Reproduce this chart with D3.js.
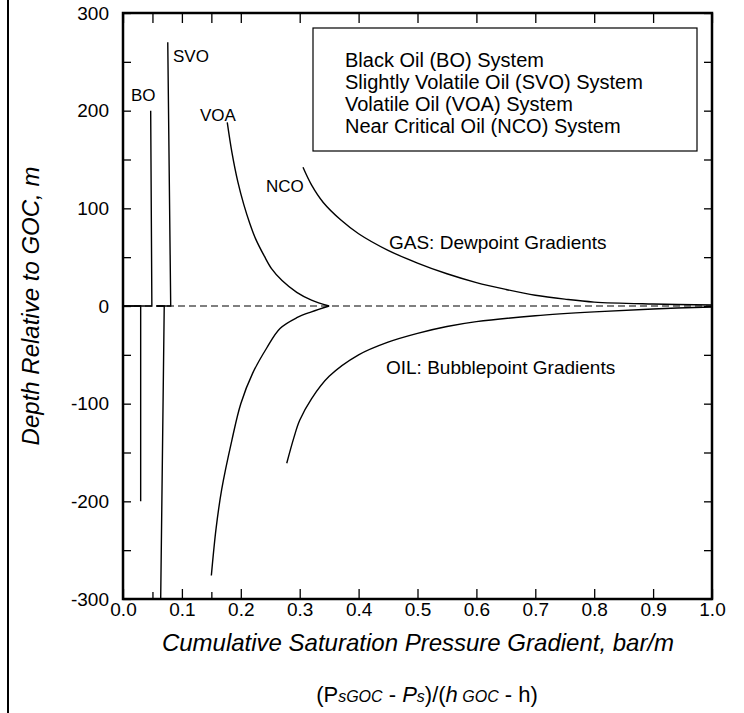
<!DOCTYPE html>
<html>
<head>
<meta charset="utf-8">
<script src="https://cdn.jsdelivr.net/npm/d3@7"></script>
<style>
  body { margin: 0; background: #fff; }
  svg text { font-family: "Liberation Sans", Arial, sans-serif; fill: #000; }
</style>
</head>
<body>
<svg id="chart" width="744" height="713"></svg>
<script>
// axis ticks
var xMajor = [0, 0.1, 0.2, 0.3, 0.4, 0.5, 0.6, 0.7, 0.8, 0.9, 1.0];
var xMinor = [0.05, 0.15];
var yTicks = [-300, -250, -200, -150, -100, -50, 0, 50, 100, 150, 200, 250, 300];
var yLabels = [-300, -200, -100, 0, 100, 200, 300];

// [gradient, depth] per system
var boGas = [[0.0, 0], [0.049, 0], [0.047, 200]];
var boOil = [[0.0, 0], [0.030, 0], [0.030, -200]];
var svoGas = [[0.057, 0], [0.081, 0], [0.076, 270]];
var svoOil = [[0.057, 0], [0.070, 0], [0.064, -300]];
var voaGas = [[0.177, 188], [0.185, 157], [0.195, 127], [0.205, 104], [0.215, 85], [0.225, 69],
  [0.24, 51], [0.2525, 38], [0.27, 26], [0.295, 14], [0.32, 6], [0.35, 0]];
var voaOil = [[0.35, 0], [0.32, -6], [0.295, -12], [0.2666, -23], [0.244, -43], [0.22, -69],
  [0.20, -100], [0.185, -137], [0.1675, -188], [0.158, -228], [0.15, -276]];
var ncoGas = [[0.3056, 142], [0.32, 124], [0.34, 106], [0.37, 88], [0.40, 74], [0.45, 57],
  [0.50, 44], [0.55, 33], [0.60, 24], [0.65, 17], [0.70, 11], [0.75, 7], [0.80, 4], [0.90, 2], [1.0, 1]];
var ncoOil = [[0.278, -161], [0.29, -135], [0.30, -117], [0.32, -95], [0.35, -72], [0.40, -50],
  [0.45, -37], [0.50, -28], [0.55, -21], [0.60, -16], [0.70, -10], [0.80, -6], [0.90, -3], [1.0, -1]];

var legendLines = [
  "Black Oil (BO) System",
  "Slightly Volatile Oil (SVO) System",
  "Volatile Oil (VOA) System",
  "Near Critical Oil (NCO) System"
];

var svg = d3.select("#chart");
var plotL = 123, plotR = 712, plotT = 13, plotB = 599;

var x = d3.scaleLinear().domain([0, 1]).range([plotL, plotR]);
var y = d3.scaleLinear().domain([-300, 300]).range([plotB, plotT]);

// page rule on the left
svg.append("line")
  .attr("x1", 8).attr("x2", 8).attr("y1", 0).attr("y2", 713)
  .attr("stroke", "#000").attr("stroke-width", 2);

// zero depth (GOC)
svg.append("line")
  .attr("x1", x(0)).attr("x2", x(1)).attr("y1", y(0)).attr("y2", y(0))
  .attr("stroke", "#555").attr("stroke-width", 1.5)
  .attr("stroke-dasharray", "7,4");

var line = d3.line().x(d => x(d[0])).y(d => y(d[1]));
var smooth = d3.line().x(d => x(d[0])).y(d => y(d[1])).curve(d3.curveCatmullRom.alpha(0.5));

[boGas, boOil, svoGas, svoOil].forEach(function(s) {
  svg.append("path").datum(s).attr("d", line)
    .attr("fill", "none").attr("stroke", "#000").attr("stroke-width", 1.4);
});
[voaGas, voaOil, ncoGas, ncoOil].forEach(function(s) {
  svg.append("path").datum(s).attr("d", smooth)
    .attr("fill", "none").attr("stroke", "#000").attr("stroke-width", 1.4);
});

// axes, ticks pointing inward
function styleAxis(g) {
  g.select(".domain").remove();
  g.selectAll(".tick line").attr("stroke", "#000").attr("stroke-width", 1.3);
  g.selectAll(".tick text").style("font-size", "19px").attr("fill", "#000");
}
svg.append("g").attr("transform", "translate(0," + plotB + ")")
  .call(d3.axisBottom(x).tickValues(xMajor).tickSizeInner(-10).tickSizeOuter(0)
    .tickPadding(4).tickFormat(d3.format(".1f")))
  .call(styleAxis);
svg.append("g").attr("transform", "translate(0," + plotB + ")")
  .call(d3.axisBottom(x).tickValues(xMinor).tickSizeInner(-7).tickSizeOuter(0).tickFormat(""))
  .call(styleAxis);
svg.append("g").attr("transform", "translate(0," + plotT + ")")
  .call(d3.axisTop(x).tickValues(xMajor.concat(xMinor)).tickSizeInner(-10).tickSizeOuter(0).tickFormat(""))
  .call(styleAxis);
svg.append("g").attr("transform", "translate(" + plotL + ",0)")
  .call(d3.axisLeft(y).tickValues(yTicks).tickSizeInner(-8).tickSizeOuter(0)
    .tickPadding(14).tickFormat(d => yLabels.indexOf(d) >= 0 ? d : ""))
  .call(styleAxis);
svg.append("g").attr("transform", "translate(" + plotR + ",0)")
  .call(d3.axisRight(y).tickValues(yTicks).tickSizeInner(-8).tickSizeOuter(0).tickFormat(""))
  .call(styleAxis);

// frame
svg.append("rect")
  .attr("x", plotL).attr("y", plotT).attr("width", plotR - plotL).attr("height", plotB - plotT)
  .attr("fill", "none").attr("stroke", "#000").attr("stroke-width", 2.5);

// curve labels
var curveLabels = [
  { text: "BO", x: 131, y: 101 },
  { text: "SVO", x: 173, y: 62 },
  { text: "VOA", x: 200, y: 121 },
  { text: "NCO", x: 266, y: 192 }
];
svg.selectAll(".clabel").data(curveLabels).enter().append("text")
  .attr("x", d => d.x).attr("y", d => d.y)
  .style("font-size", "17px").text(d => d.text);

svg.append("text").attr("x", 389).attr("y", 249).style("font-size", "19px")
  .text("GAS: Dewpoint Gradients");
svg.append("text").attr("x", 386).attr("y", 374).style("font-size", "19px")
  .text("OIL: Bubblepoint Gradients");

// legend
svg.append("rect")
  .attr("x", 313).attr("y", 28).attr("width", 384).attr("height", 123)
  .attr("fill", "#fff").attr("stroke", "#000").attr("stroke-width", 1.2);
svg.selectAll(".leg").data(legendLines).enter().append("text")
  .attr("x", 345).attr("y", (d, i) => 67 + i * 22)
  .style("font-size", "20px").text(d => d);

// axis titles
svg.append("text")
  .attr("transform", "translate(39,306) rotate(-90)")
  .attr("text-anchor", "middle").style("font-size", "24px").style("font-style", "italic")
  .text("Depth Relative to GOC, m");
svg.append("text")
  .attr("x", 418).attr("y", 651).attr("text-anchor", "middle")
  .style("font-size", "24px").style("font-style", "italic")
  .text("Cumulative Saturation Pressure Gradient, bar/m");

var sub = svg.append("text").attr("x", 427).attr("y", 702).attr("text-anchor", "middle")
  .style("font-size", "22px");
sub.append("tspan").text("(P");
sub.append("tspan").style("font-size", "16px").style("font-style", "italic").text("sGOC");
sub.append("tspan").text(" - ");
sub.append("tspan").style("font-style", "italic").text("P");
sub.append("tspan").style("font-size", "16px").style("font-style", "italic").text("s");
sub.append("tspan").text(")/(");
sub.append("tspan").style("font-style", "italic").text("h");
sub.append("tspan").style("font-size", "16px").style("font-style", "italic").text(" GOC");
sub.append("tspan").text(" - h)");
</script>
</body>
</html>
